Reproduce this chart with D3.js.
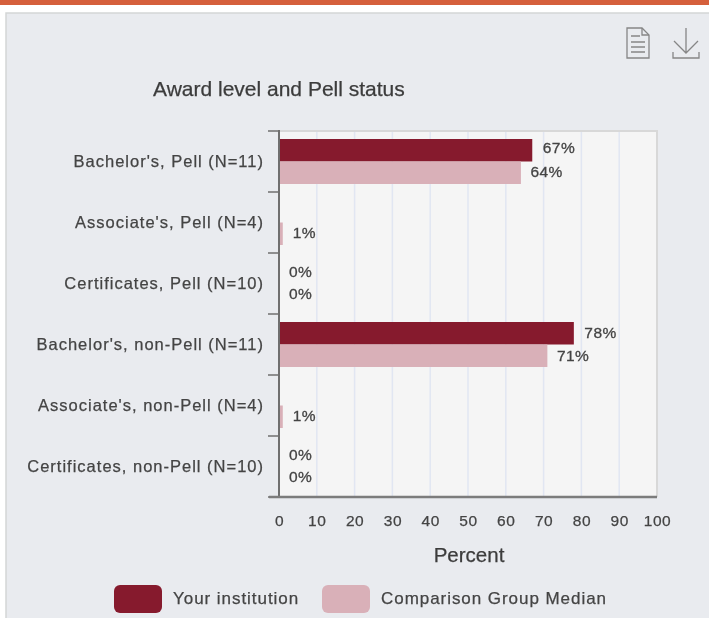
<!DOCTYPE html>
<html><head><meta charset="utf-8">
<script src="https://cdn.jsdelivr.net/npm/d3@7/dist/d3.min.js"></script>
<style>
html,body{margin:0;padding:0;background:#fff;overflow:hidden}
svg{display:block;font-family:"Liberation Sans",Arial,sans-serif;filter:blur(0.45px)}
</style></head><body><svg id="c" width="709" height="618"></svg>
<script>
const categories=["Bachelor's, Pell (N=11)","Associate's, Pell (N=4)","Certificates, Pell (N=10)","Bachelor's, non-Pell (N=11)","Associate's, non-Pell (N=4)","Certificates, non-Pell (N=10)"];
const institution=[67,null,0,78,null,0];
const comparison=[64,1,0,71,1,0];
const seriesNames=["Your institution","Comparison Group Median"];
const seriesColors=["#861a2d","#d9b0b8"];
const xTicks=[0,10,20,30,40,50,60,70,80,90,100];
const titleText="Award level and Pell status";
const xTitle="Percent";

const svg=d3.select("#c");
svg.append("rect").attr("x",0).attr("y",0).attr("width",709).attr("height",5).attr("fill","#d5603c");
svg.append("rect").attr("x",6).attr("y",13).attr("width",720).attr("height",640).attr("fill","#e9ebef").attr("stroke","#d4d6d6").attr("stroke-width",1.5);

const x=d3.scaleLinear().domain([0,100]).range([279,657]);
const y=d3.scaleBand().domain(categories).range([131,497]);
const rows=categories.map((c,i)=>({c,a:institution[i],b:comparison[i]}));
const bh=22.5, pad=8;

svg.append("rect").attr("x",x(0)).attr("y",y.range()[0]).attr("width",x(100)-x(0)).attr("height",366).attr("fill","#f5f5f5");
svg.append("g").selectAll("line").data(xTicks.slice(1,-1)).join("line")
 .attr("x1",d=>x(d)).attr("x2",d=>x(d)).attr("y1",131).attr("y2",497)
 .attr("stroke","#e1e6f2").attr("stroke-width",1.5);
svg.append("path").attr("d",`M${x(0)},131H${x(100)}V497`).attr("fill","none").attr("stroke","#d8d8d8").attr("stroke-width",2);

const bars=svg.append("g");
seriesNames.forEach((n,k)=>{
  const v=r=>k?r.b:r.a;
  const vals=rows.filter(r=>v(r)!=null);
  bars.selectAll(null).data(vals).join("rect")
   .attr("x",x(0)).attr("y",r=>y(r.c)+pad+k*bh).attr("width",r=>x(v(r))-x(0)).attr("height",bh)
   .attr("fill",seriesColors[k]);
  svg.append("g").selectAll("text").data(vals).join("text")
   .attr("x",r=>x(v(r))+(v(r)==0?10:k==0?10.5:v(r)==1?10:9.5))
   .attr("y",r=>y(r.c)+pad+k*bh+bh/2+5.5-(k==0?(v(r)==0?1:v(r)==78?1:2.5):(v(r)==64?1:v(r)==71?0:1.5)))
   .attr("font-size",15.5).attr("stroke","#444").attr("stroke-width",.3).attr("fill","#444").attr("letter-spacing",.45)
   .text(r=>v(r)+"%");
});

const yAxis=svg.append("g").attr("transform",`translate(${x(0)},0)`).call(d3.axisLeft(y).tickSize(0).tickPadding(15));
yAxis.select(".domain").remove();
yAxis.selectAll("text").attr("font-size",16.5).attr("fill","#444").attr("stroke","#444").attr("stroke-width",.25).attr("letter-spacing",1).attr("font-family","'Liberation Sans',Arial,sans-serif");
svg.append("g").selectAll("line").data(d3.range(7)).join("line")
 .attr("x1",268).attr("x2",x(0)).attr("y1",i=>131+i*y.step()).attr("y2",i=>131+i*y.step())
 .attr("stroke","#6f6f6f").attr("stroke-width",1.5);
svg.append("line").attr("x1",x(0)).attr("x2",x(0)).attr("y1",130).attr("y2",498).attr("stroke","#6f6f6f").attr("stroke-width",2);
svg.append("line").attr("x1",269).attr("x2",x(100)).attr("y1",497).attr("y2",497).attr("stroke","#7c7c7c").attr("stroke-width",2.5);

const xAxis=svg.append("g").attr("transform","translate(0,497)").call(d3.axisBottom(x).tickValues(xTicks).tickSize(0).tickPadding(18));
xAxis.select(".domain").remove();
xAxis.selectAll("text").attr("font-size",15.5).attr("fill","#444").attr("stroke","#444").attr("stroke-width",.25).attr("letter-spacing",.6).attr("font-family","'Liberation Sans',Arial,sans-serif");

svg.append("text").attr("x",153).attr("y",96).attr("font-size",21).attr("fill","#3c3c3c").attr("stroke","#3c3c3c").attr("stroke-width",.25).text(titleText);
svg.append("text").attr("x",469).attr("y",562).attr("text-anchor","middle").attr("font-size",20.5).attr("fill","#3c3c3c").attr("stroke","#3c3c3c").attr("stroke-width",.25).text(xTitle);

const legX=[114,322], txtX=[173,381];
seriesNames.forEach((n,k)=>{
  svg.append("rect").attr("x",legX[k]).attr("y",585).attr("width",48).attr("height",28).attr("rx",6).attr("fill",seriesColors[k]);
  svg.append("text").attr("x",txtX[k]).attr("y",604).attr("font-size",17).attr("fill","#444").attr("stroke","#444").attr("stroke-width",.25).attr("letter-spacing",.95).text(n);
});

// icons
const ic=svg.append("g").attr("fill","none").attr("stroke","#868686").attr("stroke-width",1.3);
ic.append("path").attr("d","M627,28H642L649,35V58H627Z");
ic.append("path").attr("d","M642,28V35H649");
ic.append("path").attr("d","M631,36H640M631,42H645M631,47H645M631,52H645");
ic.append("path").attr("d","M686,28V52M674,41L686,53L698,41");
ic.append("path").attr("d","M673,52V58H699V52");
</script></body></html>
